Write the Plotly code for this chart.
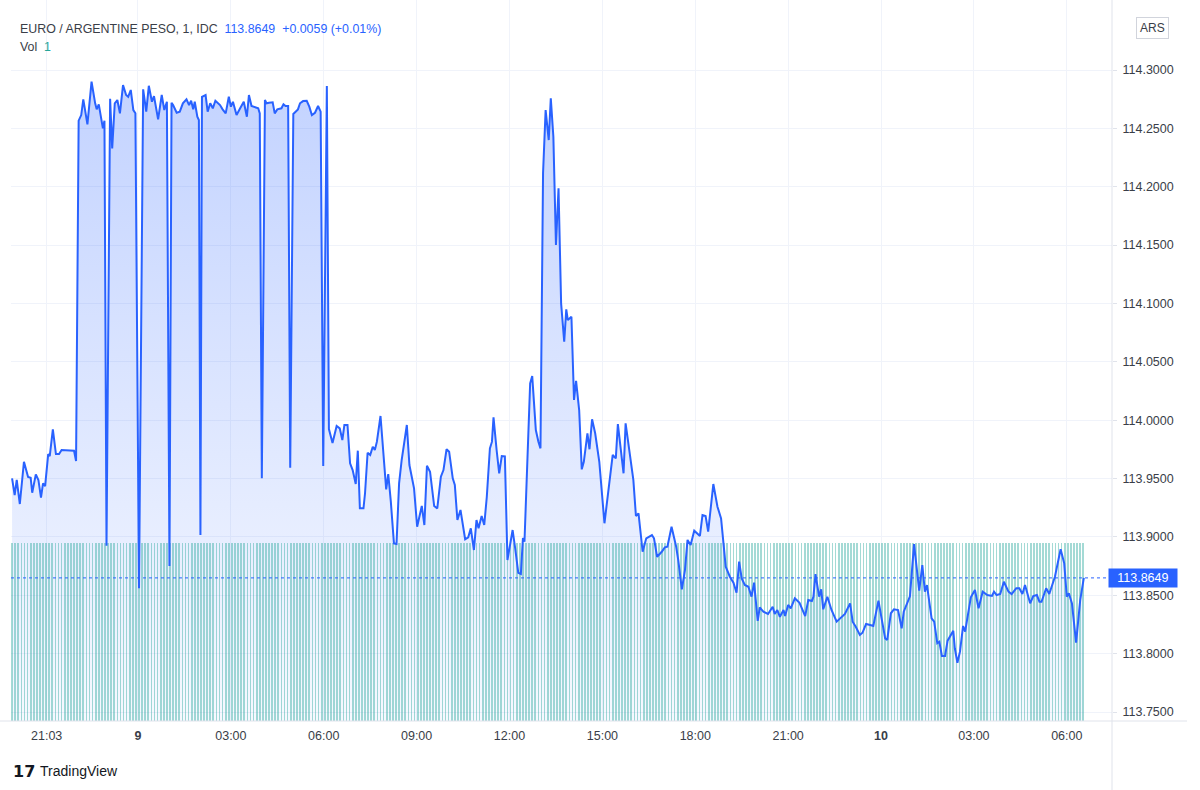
import pandas as pd
import plotly.graph_objects as go

# EUR / ARS, IDC feed, 8-10 Oct
times_8 = ["19:56", "20:01", "20:05", "20:11", "20:19", "20:27", "20:32", "20:35", "20:42", "20:47",
           "20:52", "20:56", "21:00", "21:06", "21:09", "21:15", "21:21", "21:27", "21:32", "21:56",
           "22:00", "22:05", "22:10", "22:14", "22:22", "22:30", "22:37", "22:40", "22:44", "22:52",
           "22:55", "22:59", "23:06", "23:10", "23:15", "23:20", "23:25", "23:31", "23:37", "23:41",
           "23:46", "23:51", "23:55"]
prices_8 = [113.9502, 113.9359, 113.9488, 113.9282, 113.9644, 113.9513, 113.9507, 113.9379, 113.9536, 113.9488,
            113.9336, 113.9459, 113.9436, 113.9710, 113.9693, 113.9922, 113.9710, 113.9710, 113.9745, 113.9739,
            113.9650, 114.2566, 114.2614, 114.2749, 114.2535, 114.2900, 114.2715, 114.2663, 114.2706, 114.2500,
            114.2566, 113.8925, 114.2754, 114.2329, 114.2715, 114.2743, 114.2629, 114.2871, 114.2786, 114.2771,
            114.2829, 114.2657, 114.2629]

times_9am = ["00:02", "00:10", "00:16", "00:21", "00:27", "00:31", "00:39", "00:46", "00:51", "00:56",
             "01:01", "01:05", "01:08", "01:15", "01:21", "01:27", "01:34", "01:39", "01:43", "01:47",
             "01:50", "01:55", "01:58", "02:01", "02:04", "02:11", "02:15", "02:20", "02:25", "02:30",
             "02:39", "02:44", "02:50", "02:56", "03:00", "03:04", "03:11", "03:18", "03:25", "03:31",
             "03:35", "03:40", "03:47", "03:53", "03:56", "04:00", "04:06", "04:09", "04:14", "04:21",
             "04:25", "04:30", "04:38", "04:42", "04:46", "04:51", "04:55", "05:01", "05:10", "05:14",
             "05:20", "05:27", "05:32", "05:37", "05:43", "05:49", "05:54", "05:59", "06:06", "06:10",
             "06:17", "06:25", "06:31", "06:36", "06:40", "06:46", "06:51", "06:56", "07:02", "07:06",
             "07:10", "07:17", "07:20", "07:25", "07:30", "07:35", "07:39", "07:43", "07:50", "07:55",
             "08:01", "08:05", "08:10", "08:16", "08:21", "08:26", "08:31", "08:41", "08:46", "08:55",
             "09:01", "09:10", "09:15", "09:20", "09:26", "09:34", "09:40", "09:47", "09:52", "09:58",
             "10:03", "10:10", "10:14", "10:19", "10:25", "10:34", "10:40", "10:45", "10:51", "10:56",
             "11:00", "11:06", "11:11", "11:16", "11:22", "11:26", "11:29", "11:35", "11:40", "11:45",
             "11:51", "11:56"]
prices_9am = [113.8560, 114.2835, 114.2643, 114.2865, 114.2728, 114.2777, 114.2578, 114.2786, 114.2657, 114.2728,
              113.8751, 114.2720, 114.2700, 114.2634, 114.2643, 114.2715, 114.2749, 114.2700, 114.2737, 114.2663,
              114.2728, 114.2600, 114.2572, 113.9016, 114.2771, 114.2786, 114.2643, 114.2715, 114.2672, 114.2737,
              114.2700, 114.2663, 114.2629, 114.2771, 114.2686, 114.2728, 114.2614, 114.2672, 114.2728, 114.2600,
              114.2786, 114.2692, 114.2680, 114.2672, 114.2629, 113.9502, 114.2743, 114.2715, 114.2720, 114.2723,
              114.2629, 114.2663, 114.2672, 114.2706, 114.2692, 114.2692, 113.9593, 114.2623, 114.2663, 114.2715,
              114.2734, 114.2737, 114.2686, 114.2614, 114.2634, 114.2692, 114.2643, 113.9607, 114.2863, 113.9924,
              113.9804, 113.9950, 113.9930, 113.9830, 113.9959, 113.9959, 113.9631, 113.9573, 113.9453, 113.9739,
              113.9245, 113.9245, 113.9374, 113.9721, 113.9702, 113.9773, 113.9745, 113.9816, 114.0036, 113.9730,
              113.9408, 113.9539, 113.9302, 113.8945, 113.8939, 113.9459, 113.9659, 113.9959, 113.9616, 113.9416,
              113.9087, 113.9265, 113.9102, 113.9610, 113.9559, 113.9265, 113.9245, 113.9516, 113.9573, 113.9751,
              113.9730, 113.9502, 113.9445, 113.9145, 113.9231, 113.8980, 113.8997, 113.9074, 113.8888, 113.9145,
              113.9074, 113.9179, 113.9102, 113.9344, 113.9759, 113.9816, 114.0025, 113.9745, 113.9545, 113.9693,
              113.9690, 113.8802]

times_9pm = ["12:06", "12:11", "12:17", "12:22", "12:26", "12:29", "12:40", "12:44", "12:51", "12:56",
             "13:00", "13:05", "13:10", "13:16", "13:20", "13:25", "13:30", "13:35", "13:40", "13:46",
             "13:50", "13:53", "14:00", "14:05", "14:09", "14:15", "14:20", "14:24", "14:31", "14:35",
             "14:40", "14:46", "14:54", "15:04", "15:20", "15:26", "15:30", "15:41", "15:45", "16:00",
             "16:05", "16:10", "16:18", "16:25", "16:36", "16:40", "16:46", "16:55", "17:01", "17:06",
             "17:14", "17:23", "17:27", "17:34", "17:40", "17:45", "17:51", "17:58", "18:09", "18:14",
             "18:20", "18:25", "18:35", "18:43", "18:50", "18:59", "19:07", "19:14", "19:20", "19:25",
             "19:30", "19:36", "19:43", "19:49", "19:54", "20:01", "20:05", "20:12", "20:21", "20:30",
             "20:34", "20:39", "20:44", "20:51", "20:54", "21:00", "21:05", "21:13", "21:22", "21:33",
             "21:39", "21:46", "21:49", "21:53", "22:00", "22:04", "22:08", "22:16", "22:24", "22:34",
             "22:44", "22:50", "23:00", "23:05", "23:11", "23:19", "23:24", "23:31", "23:39", "23:45",
             "23:55"]
prices_9pm = [113.9059, 113.8902, 113.8693, 113.8682, 113.8991, 113.8959, 114.0316, 114.0378, 113.9916, 113.9816,
              113.9759, 114.2115, 114.2657, 114.2400, 114.2758, 114.2429, 114.1501, 114.1987, 114.1001, 114.0672,
              114.0950, 114.0858, 114.0887, 114.0173, 114.0338, 114.0087, 113.9579, 113.9644, 113.9888, 113.9751,
              114.0008, 113.9888, 113.9644, 113.9117, 113.9702, 113.9673, 113.9967, 113.9545, 113.9973, 113.9488,
              113.9179, 113.9202, 113.8873, 113.8988, 113.9016, 113.8988, 113.8830, 113.8873, 113.8911, 113.8916,
              113.9087, 113.8916, 113.8802, 113.8551, 113.8716, 113.8974, 113.8931, 113.9053, 113.9008, 113.9188,
              113.9179, 113.9045, 113.9453, 113.9259, 113.9159, 113.8745, 113.8659, 113.8608, 113.8522, 113.8788,
              113.8645, 113.8588, 113.8573, 113.8488, 113.8608, 113.8280, 113.8397, 113.8359, 113.8340, 113.8402,
              113.8340, 113.8374, 113.8316, 113.8374, 113.8322, 113.8417, 113.8388, 113.8474, 113.8436, 113.8322,
              113.8459, 113.8451, 113.8488, 113.8682, 113.8488, 113.8551, 113.8380, 113.8488, 113.8374, 113.8274,
              113.8316, 113.8340, 113.8431, 113.8274, 113.8231, 113.8160, 113.8179, 113.8254, 113.8245, 113.8237,
              113.8453]

times_10 = ["00:01", "00:08", "00:12", "00:19", "00:25", "00:33", "00:40", "00:44", "00:56", "01:04",
            "01:14", "01:20", "01:25", "01:29", "01:38", "01:43", "01:49", "01:53", "01:58", "02:04",
            "02:09", "02:20", "02:23", "02:28", "02:33", "02:39", "02:43", "02:54", "03:02", "03:09",
            "03:17", "03:26", "03:35", "03:39", "03:44", "03:51", "03:58", "04:07", "04:13", "04:22",
            "04:28", "04:34", "04:39", "04:43", "04:49", "04:55", "05:02", "05:07", "05:11", "05:20",
            "05:26", "05:37", "05:48", "05:55", "06:00", "06:04", "06:10", "06:18", "06:26", "06:33"]
prices_10 = [113.8288, 113.8131, 113.8117, 113.8346, 113.8380, 113.8374, 113.8217, 113.8359, 113.8491, 113.8939,
             113.8539, 113.8759, 113.8531, 113.8588, 113.8303, 113.8274, 113.8089, 113.8102, 113.7980, 113.7980,
             113.8111, 113.8196, 113.8046, 113.7922, 113.8017, 113.8237, 113.8188, 113.8483, 113.8545, 113.8388,
             113.8531, 113.8502, 113.8494, 113.8531, 113.8502, 113.8511, 113.8616, 113.8531, 113.8511, 113.8560,
             113.8560, 113.8511, 113.8588, 113.8531, 113.8431, 113.8494, 113.8502, 113.8445, 113.8445, 113.8560,
             113.8511, 113.8659, 113.8894, 113.8774, 113.8488, 113.8517, 113.8431, 113.8094, 113.8459, 113.8649]

# volume pane: every bar is 1
vol_per_bar = 1
bar_first, bar_last, bar_step = "2021-10-08 19:56", "2021-10-10 06:33", "6min"

last_price = 113.8649
change = 0.0059
change_pct = 0.01

price_ticks = [113.75, 113.80, 113.85, 113.90, 113.95, 114.00,
               114.05, 114.10, 114.15, 114.20, 114.25, 114.30]
x_tick_times = ["2021-10-08 21:03", "2021-10-09 00:00", "2021-10-09 03:00", "2021-10-09 06:00",
                "2021-10-09 09:00", "2021-10-09 12:00", "2021-10-09 15:00", "2021-10-09 18:00",
                "2021-10-09 21:00", "2021-10-10 00:00", "2021-10-10 03:00", "2021-10-10 06:00"]
x_tick_text = ["21:03", "<b>9</b>", "03:00", "06:00", "09:00", "12:00", "15:00", "18:00",
               "21:00", "<b>10</b>", "03:00", "06:00"]


def stamp(day, hhmm):
    return pd.Timestamp(f"2021-10-{day:02d} {hhmm}")


t = ([stamp(8, s) for s in times_8] + [stamp(9, s) for s in times_9am + times_9pm]
     + [stamp(10, s) for s in times_10])
p = prices_8 + prices_9am + prices_9pm + prices_10

bar_times = pd.date_range(bar_first, bar_last, freq=bar_step)
volume = [vol_per_bar] * len(bar_times)

W, H = 1200, 790
ML, MR, MT, MB = 11, 88, 0, 69
PW, PH = W - ML - MR, H - MT - MB


def paper(x, y):
    # page pixel -> paper coords
    return (x - ML) / PW, (H - MB - y) / PH


y_range = [113.7423, 114.36]
blue = "#2962FF"
text_col = "#3a3e48"
grid = "#f0f3fa"
FONT = "Liberation Sans"

fig = go.Figure()
fig.add_trace(go.Scatter(
    x=t, y=p, mode="lines", line=dict(width=0), fill="tozeroy",
    fillgradient=dict(type="vertical", start=y_range[0], stop=max(p),
                      colorscale=[[0, "rgba(41,98,255,0.04)"], [1, "rgba(41,98,255,0.28)"]]),
    hoverinfo="skip", yaxis="y"))
fig.add_trace(go.Bar(
    x=bar_times, y=volume, width=3.3 * 60 * 1000,
    marker=dict(color="rgba(38,166,154,0.42)", line=dict(width=0)),
    hoverinfo="skip", yaxis="y2"))
fig.add_trace(go.Scatter(
    x=t, y=p, mode="lines", line=dict(color=blue, width=2), yaxis="y3"))

fig.add_shape(type="line", xref="paper", yref="y", x0=0, x1=1, y0=last_price, y1=last_price,
              line=dict(color=blue, width=1, dash="dot"), layer="above")
# axis borders
fig.add_shape(type="line", xref="paper", yref="paper", x0=1, x1=1, y0=paper(0, H)[1], y1=1,
              line=dict(color="#e0e3eb", width=1))
fig.add_shape(type="line", xref="paper", yref="paper", x0=paper(0, 0)[0], x1=paper(1187, 0)[0],
              y0=0, y1=0, line=dict(color="#e0e3eb", width=1))

annotations = []
tx, ty = paper(18, 29)
annotations.append(dict(
    x=tx, y=ty, xref="paper", yref="paper", xanchor="left", yanchor="middle", showarrow=False,
    text=(f"EURO / ARGENTINE PESO, 1, IDC\u00a0\u00a0<span style='color:{blue}'>{last_price:.4f}"
          f"\u00a0\u00a0+{change:.4f} (+{change_pct:.2f}%)</span>"),
    font=dict(family=FONT, size=12.4, color=text_col)))
tx, ty = paper(18, 47)
annotations.append(dict(
    x=tx, y=ty, xref="paper", yref="paper", xanchor="left", yanchor="middle", showarrow=False,
    text=f"Vol\u00a0\u00a0<span style='color:#26a69a'>{vol_per_bar}</span>",
    font=dict(family=FONT, size=12.4, color=text_col)))
tx, ty = paper(1152, 28)
annotations.append(dict(
    x=tx, y=ty, xref="paper", yref="paper", xanchor="center", yanchor="middle", showarrow=False,
    text="ARS", bordercolor="#d1d4dc", borderwidth=1, borderpad=3,
    font=dict(family=FONT, size=12, color=text_col)))
annotations.append(dict(
    x=1, y=last_price, xref="paper", yref="y", xanchor="left", yanchor="middle", showarrow=False,
    xshift=-4, text=f"\u2002{last_price:.4f}\u2002", bgcolor=blue, borderpad=2,
    font=dict(family=FONT, size=12.5, color="white")))
tx, ty = paper(11, 771)
annotations.append(dict(
    x=tx, y=ty, xref="paper", yref="paper", xanchor="left", yanchor="middle", showarrow=False,
    text="<b>17</b>", font=dict(family="DejaVu Sans", size=16, color="#131722")))
tx, ty = paper(38, 771)
annotations.append(dict(
    x=tx, y=ty, xref="paper", yref="paper", xanchor="left", yanchor="middle", showarrow=False,
    text="TradingView", font=dict(family=FONT, size=14, color="#131722")))

fig.update_layout(
    width=W, height=H, margin=dict(l=ML, r=MR, t=MT, b=MB),
    paper_bgcolor="white", plot_bgcolor="white",
    showlegend=False, hovermode=False, bargap=0,
    font=dict(family=FONT, size=12, color=text_col),
    xaxis=dict(type="date", range=["2021-10-08 19:53:54", "2021-10-10 07:27:36"],
               tickvals=x_tick_times, ticktext=x_tick_text, showgrid=True, gridcolor=grid,
               zeroline=False, showline=False, ticks="", ticklabelstandoff=5,
               tickfont=dict(size=12.5, color=text_col)),
    yaxis=dict(range=y_range, side="right", tickvals=price_ticks, tickformat=".4f",
               showgrid=True, gridcolor=grid, zeroline=False, showline=False,
               ticks="outside", ticklen=4, tickcolor="#e0e3eb", ticklabelstandoff=3,
               tickfont=dict(size=12.5, color=text_col)),
    yaxis2=dict(range=[0, 4.05], overlaying="y", visible=False),
    yaxis3=dict(range=y_range, overlaying="y", visible=False),
    annotations=annotations,
)

# the page's default 8px body margin would shift the whole figure
fig.write_html("out.html", config={"displayModeBar": False},
               post_script="document.body.style.margin = '0';")
